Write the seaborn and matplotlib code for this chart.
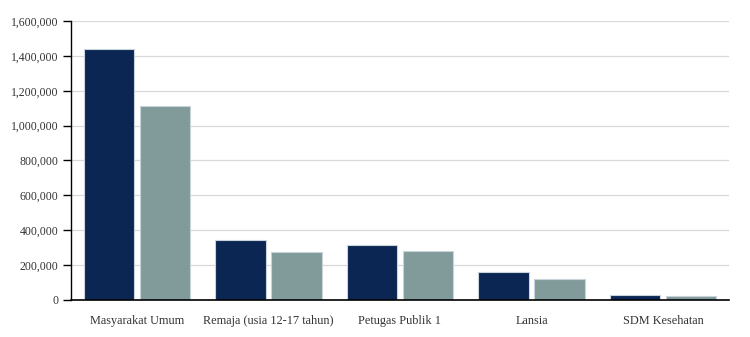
import matplotlib
matplotlib.use("Agg")
import matplotlib.pyplot as plt
import seaborn as sns
import pandas as pd
from matplotlib.ticker import FuncFormatter

categories = ["Masyarakat Umum", "Remaja (usia 12-17 tahun)", "Petugas Publik 1", "Lansia", "SDM Kesehatan"]
series_names = ["Seri 1", "Seri 2"]
series1 = [1442000, 342000, 315000, 159000, 27000]
series2 = [1115000, 273000, 279000, 119000, 25000]
yticks = [0, 200000, 400000, 600000, 800000, 1000000, 1200000, 1400000, 1600000]

df = pd.DataFrame({
    "kategori": categories * 2,
    "seri": [series_names[0]] * len(categories) + [series_names[1]] * len(categories),
    "nilai": series1 + series2,
})

sns.set_theme(style="white")
plt.rcParams["font.family"] = ["Liberation Serif", "DejaVu Serif"]

fig = plt.figure(figsize=(7.5, 3.37), dpi=100)
ax = fig.add_axes([71/750, 37/337, 658/750, 279/337])

sns.barplot(data=df, x="kategori", y="nilai", hue="seri", order=categories,
            hue_order=series_names, palette=["#0C2654", "#819A9A"], saturation=1,
            width=0.85, gap=0.1, edgecolor="#C8D4DA", linewidth=0.8,
            legend=False, ax=ax, errorbar=None)

ax.set_ylim(0, 1600000)
ax.set_xlim(-0.5, len(categories) - 0.5)
ax.set_yticks(yticks)
ax.yaxis.set_major_formatter(FuncFormatter(lambda v, p: f"{int(v):,}"))
ax.grid(axis="y", color="#D9D9D9", linewidth=0.9)
ax.set_axisbelow(True)
ax.set_xlabel("")
ax.set_ylabel("")
for s in ["top", "right"]:
    ax.spines[s].set_visible(False)
ax.spines["left"].set_color("black")
ax.spines["bottom"].set_color("black")
ax.spines["left"].set_linewidth(1.0)
ax.spines["bottom"].set_linewidth(1.2)
ax.tick_params(axis="y", length=6, width=1, color="black", labelsize=8.5, labelcolor="#333333", pad=3, left=True)
ax.tick_params(axis="x", length=0, labelsize=8.8, labelcolor="#333333", pad=11)

fig.savefig("out.png", dpi=100)
